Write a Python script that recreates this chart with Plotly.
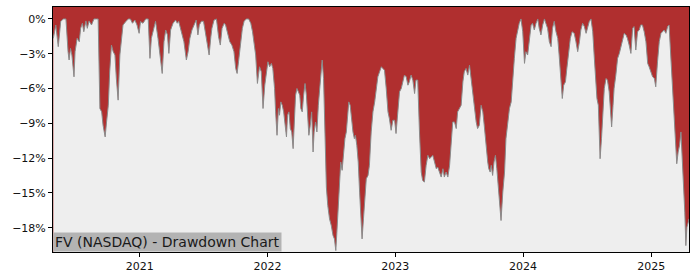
import plotly.graph_objects as go

dates = [
    "2020-04-29", "2020-05-06", "2020-05-13", "2020-05-20", "2020-05-27", "2020-06-04", "2020-06-10", "2020-06-13",
    "2020-06-17", "2020-06-21", "2020-06-27", "2020-06-30", "2020-07-06", "2020-07-12", "2020-07-16", "2020-07-21",
    "2020-07-25", "2020-07-31", "2020-08-04", "2020-08-09", "2020-08-16", "2020-08-23", "2020-08-30", "2020-09-04",
    "2020-09-09", "2020-09-14", "2020-09-18", "2020-09-24", "2020-09-28", "2020-10-03", "2020-10-07", "2020-10-12",
    "2020-10-17", "2020-10-22", "2020-10-26", "2020-10-31", "2020-11-05", "2020-11-10", "2020-11-14", "2020-11-22",
    "2020-11-29", "2020-12-05", "2020-12-11", "2020-12-18", "2020-12-24", "2020-12-30", "2021-01-03", "2021-01-10",
    "2021-01-18", "2021-01-25", "2021-01-30", "2021-02-03", "2021-02-10",
    "2021-02-15", "2021-02-22", "2021-02-27", "2021-03-06", "2021-03-11", "2021-03-16", "2021-03-21", "2021-03-25",
    "2021-03-30", "2021-04-06", "2021-04-13", "2021-04-18", "2021-04-22", "2021-04-28", "2021-05-02", "2021-05-07",
    "2021-05-14", "2021-05-19", "2021-05-24", "2021-05-30", "2021-06-05", "2021-06-11", "2021-06-16", "2021-06-20",
    "2021-06-26", "2021-07-02", "2021-07-07", "2021-07-12", "2021-07-18", "2021-07-23", "2021-07-26", "2021-08-01",
    "2021-08-08", "2021-08-14", "2021-08-19", "2021-08-24", "2021-08-30", "2021-09-03", "2021-09-08", "2021-09-15",
    "2021-09-21", "2021-09-27", "2021-10-02", "2021-10-06", "2021-10-10", "2021-10-16", "2021-10-21", "2021-10-26",
    "2021-11-01", "2021-11-08", "2021-11-14", "2021-11-19", "2021-11-23", "2021-11-28", "2021-12-03",
    "2021-12-09", "2021-12-14", "2021-12-19", "2021-12-24", "2021-12-28", "2022-01-02", "2022-01-07", "2022-01-12",
    "2022-01-16", "2022-01-21", "2022-01-24", "2022-01-28", "2022-02-01", "2022-02-04", "2022-02-08", "2022-02-12",
    "2022-02-16", "2022-02-20", "2022-02-24", "2022-02-27", "2022-03-03", "2022-03-07", "2022-03-11", "2022-03-15",
    "2022-03-18", "2022-03-22", "2022-03-26", "2022-03-30", "2022-04-03", "2022-04-06", "2022-04-10", "2022-04-14",
    "2022-04-18", "2022-04-22", "2022-04-25", "2022-04-29", "2022-05-03", "2022-05-07", "2022-05-11", "2022-05-14",
    "2022-05-18", "2022-05-22", "2022-05-26", "2022-05-30", "2022-06-02", "2022-06-06", "2022-06-10", "2022-06-14",
    "2022-06-18", "2022-06-22", "2022-06-27", "2022-07-02", "2022-07-07", "2022-07-11", "2022-07-15", "2022-07-18",
    "2022-07-22", "2022-07-26", "2022-07-29", "2022-08-02", "2022-08-06", "2022-08-10", "2022-08-14", "2022-08-18",
    "2022-08-21", "2022-08-25", "2022-08-29", "2022-09-02", "2022-09-06", "2022-09-09", "2022-09-13", "2022-09-17",
    "2022-09-21", "2022-09-25", "2022-09-28", "2022-10-02", "2022-10-06",
    "2022-10-10", "2022-10-15", "2022-10-19", "2022-10-24", "2022-10-29", "2022-11-03", "2022-11-07", "2022-11-12",
    "2022-11-17", "2022-11-22", "2022-11-26", "2022-12-01", "2022-12-06", "2022-12-11", "2022-12-15", "2022-12-20",
    "2022-12-25", "2022-12-30", "2023-01-03", "2023-01-08", "2023-01-13", "2023-01-18", "2023-01-22", "2023-01-27",
    "2023-02-01", "2023-02-06", "2023-02-10", "2023-02-15", "2023-02-20", "2023-02-25", "2023-03-01", "2023-03-06",
    "2023-03-11", "2023-03-16", "2023-03-20", "2023-03-25", "2023-03-30", "2023-04-04", "2023-04-09", "2023-04-13",
    "2023-04-18", "2023-04-23", "2023-04-28", "2023-05-02", "2023-05-07", "2023-05-12", "2023-05-17", "2023-05-21",
    "2023-05-26", "2023-05-31", "2023-06-05", "2023-06-09", "2023-06-14", "2023-06-19", "2023-06-24", "2023-06-28",
    "2023-07-03", "2023-07-08", "2023-07-13", "2023-07-17", "2023-07-22", "2023-07-27",
    "2023-08-01", "2023-08-05", "2023-08-10", "2023-08-15", "2023-08-20", "2023-08-24", "2023-08-29", "2023-09-03",
    "2023-09-08", "2023-09-12", "2023-09-17", "2023-09-22", "2023-09-25", "2023-09-29", "2023-10-02", "2023-10-06",
    "2023-10-10", "2023-10-14", "2023-10-18", "2023-10-21", "2023-10-25", "2023-10-30", "2023-11-04", "2023-11-09",
    "2023-11-13", "2023-11-18", "2023-11-23", "2023-11-28", "2023-12-02", "2023-12-07", "2023-12-12", "2023-12-17",
    "2023-12-21", "2023-12-26", "2023-12-31", "2024-01-05", "2024-01-09", "2024-01-14", "2024-01-19", "2024-01-24",
    "2024-01-28", "2024-02-02", "2024-02-07", "2024-02-12", "2024-02-16", "2024-02-21", "2024-02-26", "2024-03-02",
    "2024-03-06", "2024-03-11", "2024-03-16", "2024-03-21", "2024-03-25", "2024-03-30", "2024-04-04", "2024-04-09",
    "2024-04-13", "2024-04-18", "2024-04-22", "2024-04-26", "2024-05-01", "2024-05-05", "2024-05-10", "2024-05-15",
    "2024-05-20",
    "2024-05-26", "2024-05-31", "2024-06-05", "2024-06-10", "2024-06-14", "2024-06-19", "2024-06-24", "2024-06-29",
    "2024-07-03", "2024-07-08", "2024-07-13", "2024-07-18", "2024-07-22", "2024-07-27", "2024-07-30", "2024-08-03",
    "2024-08-06", "2024-08-08", "2024-08-12", "2024-08-16", "2024-08-20", "2024-08-25", "2024-08-29", "2024-09-03",
    "2024-09-06", "2024-09-10", "2024-09-14", "2024-09-17", "2024-09-22", "2024-09-27", "2024-10-02", "2024-10-06",
    "2024-10-11", "2024-10-16", "2024-10-21", "2024-10-25", "2024-10-30", "2024-11-04", "2024-11-09", "2024-11-13",
    "2024-11-18", "2024-11-23", "2024-11-28", "2024-12-02", "2024-12-07", "2024-12-12", "2024-12-17", "2024-12-22",
    "2024-12-26", "2024-12-31", "2025-01-05", "2025-01-10", "2025-01-14", "2025-01-19", "2025-01-24", "2025-01-29",
    "2025-02-02", "2025-02-07", "2025-02-12", "2025-02-17", "2025-02-21", "2025-02-26", "2025-03-03", "2025-03-08",
    "2025-03-12", "2025-03-15", "2025-03-19", "2025-03-23", "2025-03-27", "2025-03-30", "2025-04-03", "2025-04-07",
    "2025-04-10", "2025-04-13", "2025-04-17", "2025-04-19",
]

drawdown_pct = [
    -1.67, -0.52, -2.39, -0.23, 0.0, 0.0, -2.82, -3.54,
    -2.54, -3.11, -4.99, -2.82, -1.67, -1.96, -0.81, -0.37,
    -1.10, -0.17, -0.81, -0.17, -0.52, 0.0, 0.0, 0.0,
    -7.72, -8.01, -9.16, -10.17, -8.88, -7.44, -4.55, -2.25,
    -2.82, -3.11, -5.13, -7.00, -3.11, -1.38, -0.52, -0.23,
    0.0, 0.0, -0.37, -0.10, -0.52, -1.24, -0.23, -0.37,
    0.0, 0.0, -3.40, -1.67, -0.81,
    -0.20, -1.67, -2.82, -4.70, -1.96, -0.95, -1.38, -2.97,
    -0.95, -0.37, -0.10, -0.37, -0.20, -0.95, -1.38, -1.96,
    -3.54, -2.82, -1.67, -0.95, -0.52, -0.10, -1.38, -0.52,
    -0.20, -0.20, -1.10, -1.96, -3.11, -1.53, -0.81, -0.10,
    0.0, -1.53, -2.25, -0.81, -0.37, -0.52, -1.10, -1.96,
    -2.25, -2.82, -4.27, -4.70, -3.69, -1.96, -0.81, -0.20,
    0.0, 0.0, -0.37, -1.10, -1.96, -3.11, -5.56,
    -4.12, -4.55, -7.72, -5.71, -4.55, -3.69, -4.12, -3.83,
    -4.27, -5.99, -8.01, -10.03, -7.72, -8.30, -7.15, -7.44,
    -8.01, -8.88, -10.17, -8.30, -8.01, -9.45, -9.74, -11.18,
    -8.88, -6.57, -5.99, -6.28, -6.57, -7.72, -8.01, -6.57,
    -5.56, -6.57, -8.59, -10.03, -9.16, -8.01, -11.47, -9.74,
    -8.88, -9.74, -7.44, -5.71, -4.55, -3.54, -5.13, -9.16,
    -14.50, -16.08, -17.23, -17.81, -18.67, -18.96, -19.97, -18.39,
    -16.08, -13.78, -12.33, -13.05, -11.47, -10.32, -9.74, -8.59,
    -7.15, -7.44, -8.88, -9.74, -10.32, -10.03, -10.89, -12.33,
    -14.93, -17.52, -18.96, -17.23, -15.50,
    -13.78, -13.49, -12.62, -9.74, -8.01, -7.15, -5.99, -4.99,
    -4.55, -4.12, -4.27, -4.41, -5.99, -8.01, -8.59, -9.60,
    -8.73, -8.73, -9.88, -8.01, -6.28, -5.99, -5.42, -4.84,
    -4.99, -5.71, -5.42, -4.84, -5.27, -6.43, -5.27, -5.27,
    -9.74, -13.20, -13.92, -14.06, -12.62, -11.76, -12.05, -11.90,
    -11.76, -12.33, -12.91, -12.77, -13.20, -13.63, -12.91, -13.63,
    -13.20, -13.63, -12.62, -10.89, -8.88, -8.88, -9.45, -8.01,
    -7.72, -7.44, -5.42, -4.55, -4.27, -4.84,
    -3.98, -5.13, -6.57, -7.44, -8.88, -9.45, -9.16, -7.44,
    -8.01, -9.16, -10.89, -12.33, -12.91, -13.20, -12.62, -13.49,
    -12.33, -11.76, -12.91, -14.06, -15.50, -17.38, -14.93, -13.20,
    -10.32, -8.88, -7.72, -7.15, -5.13, -3.40, -1.67, -0.81,
    -0.37, 0.0, -1.10, -3.83, -2.82, -3.11, -1.67, -0.52,
    -0.37, -0.95, -0.37, 0.0, -0.81, -1.38, -0.52, 0.0,
    -0.37, -0.81, -1.96, -2.39, -0.81, -0.20, -1.10, -1.67,
    -3.11, -5.13, -6.86, -5.71, -5.42, -4.27, -3.11, -1.67,
    -1.10,
    -1.24, -1.96, -2.82, -1.96, -0.95, -0.37, -0.66, -1.24,
    -0.81, -0.23, 0.0, -1.10, -3.11, -5.99, -6.86, -7.44,
    -9.74, -12.05, -10.32, -8.01, -5.99, -5.13, -5.27, -6.28,
    -8.01, -9.31, -7.44, -5.99, -4.84, -3.40, -2.97, -2.54,
    -1.96, -1.24, -1.38, -1.67, -2.25, -2.97, -0.81, -0.66,
    -2.68, -1.10, -0.95, -0.52, -0.52, -1.10, -1.96, -3.83,
    -4.12, -4.55, -4.99, -5.13, -5.85, -3.69, -1.96, -1.24,
    -1.10, -0.95, -1.24, -0.66, -0.52, -3.11, -5.42, -8.30,
    -10.89, -12.48, -11.47, -10.89, -9.74, -11.47, -13.20, -16.66,
    -19.54, -17.95, -17.52, -17.23,
]

y_ticks = [0, -3, -6, -9, -12, -15, -18]
y_tick_labels = ["0%", "\u22123%", "\u22126%", "\u22129%", "\u221212%", "\u221215%", "\u221218%"]
x_ticks = ["2021-01-01", "2022-01-01", "2023-01-01", "2024-01-01", "2025-01-01"]
x_tick_labels = ["2021", "2022", "2023", "2024", "2025"]
title_text = "FV (NASDAQ) - Drawdown Chart"

Y_MIN, Y_MAX = -20.09, 1.03
RED = "#B02F2F"
GRAY_BG = "#EEEEEE"

fig = go.Figure()
# baseline at the bottom of the axis, so the area under the drawdown line is painted gray
fig.add_trace(go.Scatter(
    x=dates, y=[Y_MIN] * len(dates), mode="lines",
    line=dict(width=0, color=GRAY_BG), hoverinfo="skip", showlegend=False,
))
fig.add_trace(go.Scatter(
    x=dates, y=drawdown_pct, mode="lines",
    line=dict(width=1, color="#8a8a8a"),
    fill="tonexty", fillcolor=GRAY_BG, showlegend=False,
))

fig.add_annotation(
    xref="paper", yref="paper", x=0, y=0, xanchor="left", yanchor="bottom",
    text=title_text, showarrow=False,
    font=dict(family="DejaVu Sans", size=14, color="#1a1a1a"),
    bgcolor="#B3B3B3", borderpad=1,
)

fig.update_layout(
    width=700, height=280,
    margin=dict(l=53, r=11, t=7, b=28),
    paper_bgcolor="white", plot_bgcolor=RED,
    font=dict(family="DejaVu Sans", size=11, color="#111"),
    showlegend=False,
)
fig.update_xaxes(
    type="date", range=["2020-04-28", "2025-04-19"],
    tickvals=x_ticks, ticktext=x_tick_labels,
    showgrid=False, zeroline=False,
    showline=True, linecolor="black", linewidth=1, mirror=True,
    ticks="outside", ticklen=4, tickcolor="black",
)
fig.update_yaxes(
    range=[Y_MIN, Y_MAX],
    tickvals=y_ticks, ticktext=y_tick_labels,
    showgrid=False, zeroline=False,
    showline=True, linecolor="black", linewidth=1, mirror=True,
    ticks="outside", ticklen=4, tickcolor="black",
)

fig.write_html("out.html")
